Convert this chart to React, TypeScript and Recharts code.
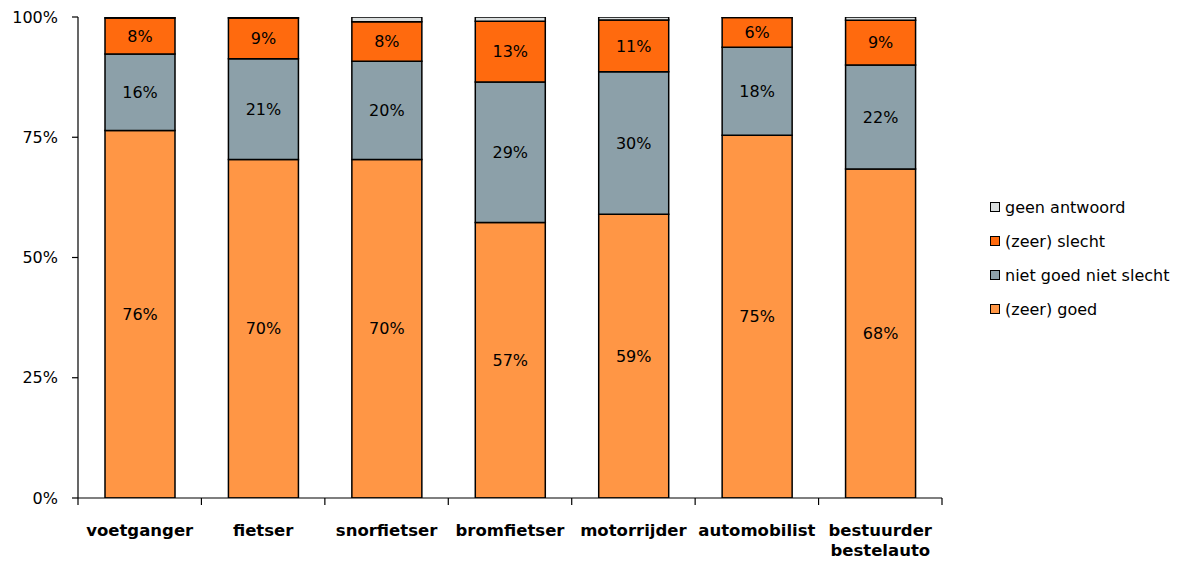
import React from 'react';
import { BarChart, Bar, XAxis, YAxis, LabelList } from 'recharts';

const categories = ['voetganger', 'fietser', 'snorfietser', 'bromfietser', 'motorrijder', 'automobilist', 'bestuurder bestelauto'];
const goed = [76.4, 70.4, 70.4, 57.3, 59.0, 75.4, 68.4];
const niet = [15.9, 20.9, 20.4, 29.2, 29.6, 18.3, 21.6];
const slecht = [7.5, 8.5, 8.2, 12.6, 10.8, 6.2, 9.3];
const geen = [0.2, 0.2, 1.0, 0.9, 0.6, 0.1, 0.7];
const yTicks = [0, 25, 50, 75, 100];

const seriesNames = {
  geen: 'geen antwoord',
  slecht: '(zeer) slecht',
  niet: 'niet goed niet slecht',
  goed: '(zeer) goed',
};
const colors = {
  goed: '#FF9645',
  niet: '#8CA0A9',
  slecht: '#FF6A0E',
  geen: '#DADEDE',
};

const data = categories.map((name, i) => ({
  name,
  goed: goed[i],
  niet: niet[i],
  slecht: slecht[i],
  geen: geen[i],
}));

const FONT = '"DejaVu Sans", Verdana, sans-serif';

const CatTick = (props: any) => {
  const { x, y, payload, width, visibleTicksCount, index } = props;
  const half = Number(width) / Number(visibleTicksCount) / 2;
  const lines = String(payload.value).split(' ');
  return (
    <g>
      {index === 0 && <line x1={x - half} x2={x - half} y1={y} y2={y + 7} stroke="#000" strokeWidth={1.2} />}
      <line x1={x + half} x2={x + half} y1={y} y2={y + 7} stroke="#000" strokeWidth={1.2} />
      <text x={x} y={y} textAnchor="middle" fontFamily={FONT} fontWeight="bold" fontSize={16.5} fill="#000">
        {lines.map((l, i) => (
          <tspan key={i} x={x} dy={i === 0 ? 38 : 20}>{l}</tspan>
        ))}
      </text>
    </g>
  );
};

const fmt = (v: any) => `${Math.round(Number(v))}%`;

export default function App() {
  const legendOrder: (keyof typeof colors)[] = ['geen', 'slecht', 'niet', 'goed'];
  return (
    <div style={{ position: 'relative', width: 1173, height: 553 }}>
      <style>{`body{margin-bottom:0}`}</style>
      <BarChart
        width={1173}
        height={553}
        data={data}
        margin={{ top: 9, right: 239, bottom: 0, left: 0 }}
        barCategoryGap={0}
      >
        <XAxis
          dataKey="name"
          height={63}
          interval={0}
          tickSize={0}
          tickMargin={0}
          tickLine={false}
          axisLine={{ stroke: '#000', strokeWidth: 1.2 }}
          tick={<CatTick />}
        />
        <YAxis
          width={70}
          domain={[0, 100]}
          ticks={yTicks}
          allowDataOverflow
          tickFormatter={(v) => `${v}%`}
          tickSize={6}
          tickMargin={14}
          tickLine={{ stroke: '#000', strokeWidth: 1.2 }}
          axisLine={{ stroke: '#000', strokeWidth: 1.2 }}
          tick={{ fill: '#000', fontSize: 16, fontFamily: FONT }}
        />
        <Bar dataKey="goed" stackId="a" barSize={70} fill={colors.goed} stroke="#000" strokeWidth={1.5} isAnimationActive={false}>
          <LabelList dataKey="goed" position="center" formatter={fmt} fill="#000" fontSize={16} fontFamily={FONT} />
        </Bar>
        <Bar dataKey="niet" stackId="a" barSize={70} fill={colors.niet} stroke="#000" strokeWidth={1.5} isAnimationActive={false}>
          <LabelList dataKey="niet" position="center" formatter={fmt} fill="#000" fontSize={16} fontFamily={FONT} />
        </Bar>
        <Bar dataKey="slecht" stackId="a" barSize={70} fill={colors.slecht} stroke="#000" strokeWidth={1.5} isAnimationActive={false}>
          <LabelList dataKey="slecht" position="center" formatter={fmt} fill="#000" fontSize={16} fontFamily={FONT} />
        </Bar>
        <Bar dataKey="geen" stackId="a" barSize={70} fill={colors.geen} stroke="#000" strokeWidth={1.5} isAnimationActive={false} />
      </BarChart>
      <div style={{ position: 'absolute', left: 982, top: 182, fontFamily: FONT, fontSize: 16, color: '#000' }}>
        {legendOrder.map((k) => (
          <div key={k} style={{ display: 'flex', alignItems: 'center', height: 34, whiteSpace: 'nowrap' }}>
            <span style={{ display: 'inline-block', width: 8, height: 8, background: colors[k], border: '1px solid #000', marginRight: 5 }} />
            <span>{seriesNames[k]}</span>
          </div>
        ))}
      </div>
    </div>
  );
}
